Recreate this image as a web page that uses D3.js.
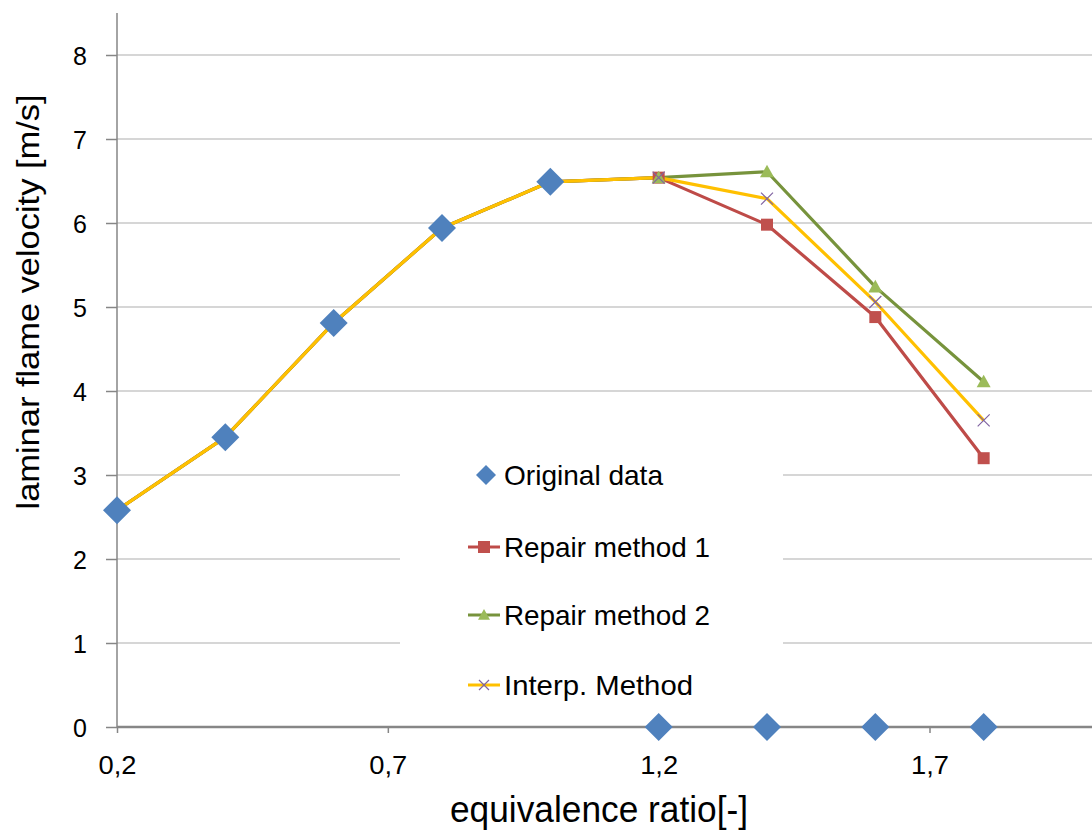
<!DOCTYPE html>
<html><head><meta charset="utf-8">
<script src="https://cdn.jsdelivr.net/npm/d3@7"></script>
<style>
body{margin:0;background:#fff;}
text{font-family:"Liberation Sans","Open Sans",sans-serif;fill:#000;}
</style></head><body>
<svg id="c" width="1092" height="832"></svg>
<script>
const xValues = [0.2, 0.4, 0.6, 0.8, 1.0, 1.2, 1.4, 1.6, 1.8];
const originalData = [2.58, 3.45, 4.81, 5.94, 6.49, 0, 0, 0, 0];
const repair1 = [2.58, 3.45, 4.81, 5.94, 6.49, 6.54, 5.98, 4.88, 3.20];
const repair2 = [2.58, 3.45, 4.81, 5.94, 6.49, 6.54, 6.61, 5.24, 4.11];
const interp  = [2.58, 3.45, 4.81, 5.94, 6.49, 6.54, 6.29, 5.06, 3.65];
const xTicks = [0.2, 0.7, 1.2, 1.7];
const yTicks = [0, 1, 2, 3, 4, 5, 6, 7, 8];
const legendLabels = ["Original data", "Repair method 1", "Repair method 2", "Interp. Method"];

const svg = d3.select("#c");
const x = d3.scaleLinear().domain([0.2, 2.0]).range([117, 1092]);
const y = d3.scaleLinear().domain([0, 8.5]).range([727, 13]);

// gridlines
svg.append("g").selectAll("line").data(yTicks.filter(d => d > 0)).join("line")
  .attr("x1", x(0.2)).attr("x2", x(2.0))
  .attr("y1", d => y(d)).attr("y2", d => y(d))
  .attr("stroke", "#c8c8c8").attr("stroke-width", 1.5);

// y axis
const yAxis = d3.axisLeft(y).tickValues(yTicks).tickSize(11).tickPadding(19).tickFormat(d3.format("d"));
const gy = svg.append("g").attr("transform", `translate(${x(0.2)},0)`).call(yAxis);
gy.select(".domain").attr("stroke", "#868686").attr("stroke-width", 1.5).attr("d", `M-0,${y(8.5)}V${y(0)}`);
gy.selectAll(".tick line").attr("stroke", "#868686").attr("stroke-width", 1.5);
gy.selectAll(".tick text").attr("font-size", 25).attr("fill", "#000").attr("dy", "0.36em")
  .style("font-family", "'Liberation Sans',sans-serif");

// x axis
const xAxis = d3.axisBottom(x).tickValues(xTicks).tickSize(6).tickPadding(23)
  .tickFormat(d => d3.format(".1f")(d).replace(".", ","));
const gx = svg.append("g").attr("transform", `translate(0,${y(0)})`).call(xAxis);
gx.select(".domain").attr("stroke", "#868686").attr("stroke-width", 2.5).attr("d", `M${x(0.2)},0H${x(2.0)}`);
gx.selectAll(".tick line").attr("stroke", "#868686").attr("stroke-width", 1.5);
gx.selectAll(".tick text").attr("font-size", 25).attr("fill", "#000").attr("dy", "0.71em")
  .attr("textLength", 38).attr("lengthAdjust", "spacingAndGlyphs")
  .style("font-family", "'Liberation Sans',sans-serif");

// legend background
const legend = svg.append("g");
legend.append("rect").attr("x", 400).attr("y", 440).attr("width", 383).attr("height", 282).attr("fill", "#fff");

// lines
const line = d3.line().x((d, i) => x(xValues[i])).y(d => y(d));
const lineSeries = [
  {vals: repair1, color: "#BE4B48"},
  {vals: repair2, color: "#77933C"},
  {vals: interp, color: "#FFC000"}
];
lineSeries.forEach(s => {
  svg.append("path").datum(s.vals).attr("d", line).attr("fill", "none")
    .attr("stroke", s.color).attr("stroke-width", 3.2).attr("stroke-linejoin", "round");
});

// markers
const diamond = (cx, cy, r) => `M${cx},${cy - r}L${cx + r},${cy}L${cx},${cy + r}L${cx - r},${cy}Z`;
const square = (cx, cy, r) => `M${cx - r},${cy - r}h${2 * r}v${2 * r}h${-2 * r}Z`;
const tri = (cx, cy, r) => `M${cx},${cy - r}L${cx + r},${cy + r * 0.8}L${cx - r},${cy + r * 0.8}Z`;
const cross = (cx, cy, r) => `M${cx - r},${cy - r}L${cx + r},${cy + r}M${cx - r},${cy + r}L${cx + r},${cy - r}`;

svg.append("g").selectAll("path").data(repair1.slice(5)).join("path")
  .attr("d", (d, i) => square(x(xValues[i + 5]), y(d), 6)).attr("fill", "#C0504D");
svg.append("g").selectAll("path").data(repair2.slice(5)).join("path")
  .attr("d", (d, i) => tri(x(xValues[i + 5]), y(d), 7)).attr("fill", "#9BBB59");
svg.append("g").selectAll("path").data(interp.slice(5)).join("path")
  .attr("d", (d, i) => cross(x(xValues[i + 5]), y(d), 6)).attr("stroke", "#8064A2").attr("stroke-width", 1.2).attr("fill", "none");
svg.append("g").selectAll("path").data(originalData).join("path")
  .attr("d", (d, i) => diamond(x(xValues[i]), y(d), 14)).attr("fill", "#4F81BD");

// legend items
const ly = [475, 547, 615, 685];
const lx0 = 468, lx1 = 500;
const lc = (lx0 + lx1) / 2;
legend.append("path").attr("d", diamond(lc + 2, ly[0], 10)).attr("fill", "#4F81BD");
legend.append("line").attr("x1", lx0).attr("x2", lx1).attr("y1", ly[1]).attr("y2", ly[1]).attr("stroke", "#BE4B48").attr("stroke-width", 3);
legend.append("path").attr("d", square(lc, ly[1], 6)).attr("fill", "#C0504D");
legend.append("line").attr("x1", lx0).attr("x2", lx1).attr("y1", ly[2]).attr("y2", ly[2]).attr("stroke", "#77933C").attr("stroke-width", 3);
legend.append("path").attr("d", tri(lc, ly[2], 6)).attr("fill", "#9BBB59");
legend.append("line").attr("x1", lx0).attr("x2", lx1).attr("y1", ly[3]).attr("y2", ly[3]).attr("stroke", "#FFC000").attr("stroke-width", 3);
legend.append("path").attr("d", cross(lc, ly[3], 5)).attr("stroke", "#8064A2").attr("stroke-width", 1.2);
const legendWidths = [159, 206, 206, 189];
legend.selectAll("text.l").data(legendLabels).join("text").attr("class", "l")
  .attr("x", 504).attr("y", (d, i) => ly[i]).attr("dy", "0.36em").attr("font-size", 28)
  .attr("textLength", (d, i) => legendWidths[i]).attr("lengthAdjust", "spacingAndGlyphs")
  .text(d => d);

// axis titles
svg.append("text").attr("x", 599).attr("y", 822).attr("text-anchor", "middle").attr("font-size", 36)
  .attr("textLength", 298).attr("lengthAdjust", "spacingAndGlyphs")
  .text("equivalence ratio[-]");
svg.append("text").attr("transform", "translate(39,302) rotate(-90)").attr("text-anchor", "middle").attr("font-size", 31)
  .attr("textLength", 415).attr("lengthAdjust", "spacingAndGlyphs")
  .text("laminar flame velocity [m/s]");
</script>
</body></html>
